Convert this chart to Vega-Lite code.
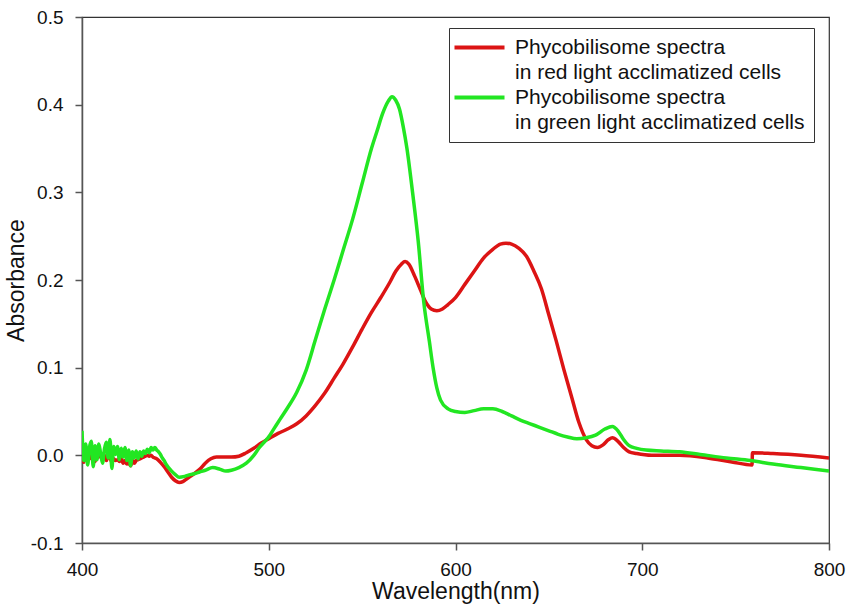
{
  "$schema": "https://vega.github.io/schema/vega-lite/v6.json",
  "width": 747,
  "height": 526,
  "autosize": {"type": "none"},
  "padding": {"left": 82, "top": 17, "right": 21, "bottom": 66},
  "background": "white",
  "config": {
    "font": "Liberation Sans",
    "view": {"stroke": "#333", "strokeWidth": 1.2},
    "axis": {
      "grid": false,
      "domainColor": "#555",
      "domainWidth": 1.5,
      "tickColor": "#555",
      "tickWidth": 1.5,
      "tickSize": 7,
      "labelFontSize": 19,
      "labelColor": "#111",
      "labelFlush": false,
      "titleFontSize": 23,
      "titleFontWeight": "normal",
      "titleColor": "#111"
    }
  },
  "data": {
    "values": [
      {"series":"red","wavelength":400,"absorbance":0.000},
      {"series":"red","wavelength":401,"absorbance":-0.008},
      {"series":"red","wavelength":402,"absorbance":0.004},
      {"series":"red","wavelength":403,"absorbance":-0.006},
      {"series":"red","wavelength":404,"absorbance":0.002},
      {"series":"red","wavelength":405,"absorbance":-0.004},
      {"series":"red","wavelength":406,"absorbance":0.003},
      {"series":"red","wavelength":407,"absorbance":-0.007},
      {"series":"red","wavelength":408,"absorbance":0.001},
      {"series":"red","wavelength":409,"absorbance":-0.002},
      {"series":"red","wavelength":410,"absorbance":0.003},
      {"series":"red","wavelength":411,"absorbance":-0.004},
      {"series":"red","wavelength":412,"absorbance":0.000},
      {"series":"red","wavelength":413,"absorbance":-0.006},
      {"series":"red","wavelength":414,"absorbance":-0.002},
      {"series":"red","wavelength":415,"absorbance":-0.003},
      {"series":"red","wavelength":416,"absorbance":-0.008},
      {"series":"red","wavelength":417,"absorbance":-0.004},
      {"series":"red","wavelength":418,"absorbance":-0.006},
      {"series":"red","wavelength":419,"absorbance":-0.005},
      {"series":"red","wavelength":420,"absorbance":-0.007},
      {"series":"red","wavelength":421,"absorbance":-0.004},
      {"series":"red","wavelength":422,"absorbance":-0.009},
      {"series":"red","wavelength":423,"absorbance":-0.006},
      {"series":"red","wavelength":424,"absorbance":-0.010},
      {"series":"red","wavelength":425,"absorbance":-0.008},
      {"series":"red","wavelength":426,"absorbance":-0.012},
      {"series":"red","wavelength":427,"absorbance":-0.006},
      {"series":"red","wavelength":428,"absorbance":-0.009},
      {"series":"red","wavelength":429,"absorbance":-0.006},
      {"series":"red","wavelength":430,"absorbance":-0.005},
      {"series":"red","wavelength":431,"absorbance":-0.004},
      {"series":"red","wavelength":432,"absorbance":-0.003},
      {"series":"red","wavelength":433,"absorbance":-0.002},
      {"series":"red","wavelength":434,"absorbance":-0.001},
      {"series":"red","wavelength":435,"absorbance":0.000},
      {"series":"red","wavelength":436,"absorbance":-0.001},
      {"series":"red","wavelength":437,"absorbance":0.000},
      {"series":"red","wavelength":438,"absorbance":-0.002},
      {"series":"red","wavelength":439,"absorbance":-0.003},
      {"series":"red","wavelength":440,"absorbance":-0.004},
      {"series":"red","wavelength":442,"absorbance":-0.008},
      {"series":"red","wavelength":444,"absorbance":-0.013},
      {"series":"red","wavelength":446,"absorbance":-0.019},
      {"series":"red","wavelength":448,"absorbance":-0.025},
      {"series":"red","wavelength":450,"absorbance":-0.029},
      {"series":"red","wavelength":452,"absorbance":-0.031},
      {"series":"red","wavelength":454,"absorbance":-0.030},
      {"series":"red","wavelength":456,"absorbance":-0.027},
      {"series":"red","wavelength":458,"absorbance":-0.024},
      {"series":"red","wavelength":460,"absorbance":-0.021},
      {"series":"red","wavelength":463,"absorbance":-0.016},
      {"series":"red","wavelength":466,"absorbance":-0.009},
      {"series":"red","wavelength":469,"absorbance":-0.004},
      {"series":"red","wavelength":472,"absorbance":-0.002},
      {"series":"red","wavelength":476,"absorbance":-0.002},
      {"series":"red","wavelength":480,"absorbance":-0.002},
      {"series":"red","wavelength":484,"absorbance":-0.001},
      {"series":"red","wavelength":488,"absorbance":0.003},
      {"series":"red","wavelength":492,"absorbance":0.008},
      {"series":"red","wavelength":496,"absorbance":0.014},
      {"series":"red","wavelength":500,"absorbance":0.019},
      {"series":"red","wavelength":505,"absorbance":0.025},
      {"series":"red","wavelength":510,"absorbance":0.030},
      {"series":"red","wavelength":515,"absorbance":0.036},
      {"series":"red","wavelength":520,"absorbance":0.045},
      {"series":"red","wavelength":525,"absorbance":0.057},
      {"series":"red","wavelength":530,"absorbance":0.071},
      {"series":"red","wavelength":535,"absorbance":0.088},
      {"series":"red","wavelength":540,"absorbance":0.105},
      {"series":"red","wavelength":545,"absorbance":0.124},
      {"series":"red","wavelength":550,"absorbance":0.144},
      {"series":"red","wavelength":555,"absorbance":0.163},
      {"series":"red","wavelength":560,"absorbance":0.180},
      {"series":"red","wavelength":565,"absorbance":0.198},
      {"series":"red","wavelength":568,"absorbance":0.210},
      {"series":"red","wavelength":571,"absorbance":0.218},
      {"series":"red","wavelength":573,"absorbance":0.221},
      {"series":"red","wavelength":575,"absorbance":0.218},
      {"series":"red","wavelength":578,"absorbance":0.205},
      {"series":"red","wavelength":581,"absorbance":0.190},
      {"series":"red","wavelength":584,"absorbance":0.175},
      {"series":"red","wavelength":587,"absorbance":0.167},
      {"series":"red","wavelength":590,"absorbance":0.165},
      {"series":"red","wavelength":593,"absorbance":0.167},
      {"series":"red","wavelength":596,"absorbance":0.172},
      {"series":"red","wavelength":600,"absorbance":0.180},
      {"series":"red","wavelength":605,"absorbance":0.195},
      {"series":"red","wavelength":610,"absorbance":0.210},
      {"series":"red","wavelength":615,"absorbance":0.225},
      {"series":"red","wavelength":620,"absorbance":0.235},
      {"series":"red","wavelength":624,"absorbance":0.241},
      {"series":"red","wavelength":627,"absorbance":0.242},
      {"series":"red","wavelength":630,"absorbance":0.241},
      {"series":"red","wavelength":634,"absorbance":0.236},
      {"series":"red","wavelength":638,"absorbance":0.227},
      {"series":"red","wavelength":642,"absorbance":0.210},
      {"series":"red","wavelength":646,"absorbance":0.190},
      {"series":"red","wavelength":650,"absorbance":0.160},
      {"series":"red","wavelength":654,"absorbance":0.130},
      {"series":"red","wavelength":658,"absorbance":0.098},
      {"series":"red","wavelength":662,"absorbance":0.068},
      {"series":"red","wavelength":666,"absorbance":0.038},
      {"series":"red","wavelength":670,"absorbance":0.018},
      {"series":"red","wavelength":673,"absorbance":0.011},
      {"series":"red","wavelength":676,"absorbance":0.009},
      {"series":"red","wavelength":679,"absorbance":0.012},
      {"series":"red","wavelength":682,"absorbance":0.018},
      {"series":"red","wavelength":684,"absorbance":0.020},
      {"series":"red","wavelength":687,"absorbance":0.016},
      {"series":"red","wavelength":690,"absorbance":0.009},
      {"series":"red","wavelength":693,"absorbance":0.004},
      {"series":"red","wavelength":697,"absorbance":0.002},
      {"series":"red","wavelength":705,"absorbance":0.000},
      {"series":"red","wavelength":720,"absorbance":0.000},
      {"series":"red","wavelength":735,"absorbance":-0.003},
      {"series":"red","wavelength":748,"absorbance":-0.0076},
      {"series":"red","wavelength":758.8,"absorbance":-0.011},
      {"series":"red","wavelength":759,"absorbance":0.003},
      {"series":"red","wavelength":770,"absorbance":0.002},
      {"series":"red","wavelength":785,"absorbance":0.000},
      {"series":"red","wavelength":800,"absorbance":-0.003},
      {"series":"green","wavelength":400,"absorbance":0.028},
      {"series":"green","wavelength":401,"absorbance":-0.006},
      {"series":"green","wavelength":402,"absorbance":0.013},
      {"series":"green","wavelength":403,"absorbance":-0.011},
      {"series":"green","wavelength":404,"absorbance":0.009},
      {"series":"green","wavelength":405,"absorbance":0.016},
      {"series":"green","wavelength":406,"absorbance":-0.013},
      {"series":"green","wavelength":407,"absorbance":0.011},
      {"series":"green","wavelength":408,"absorbance":-0.005},
      {"series":"green","wavelength":409,"absorbance":0.013},
      {"series":"green","wavelength":410,"absorbance":0.002},
      {"series":"green","wavelength":411,"absorbance":-0.009},
      {"series":"green","wavelength":412,"absorbance":0.007},
      {"series":"green","wavelength":413,"absorbance":0.015},
      {"series":"green","wavelength":414,"absorbance":-0.003},
      {"series":"green","wavelength":415,"absorbance":0.018},
      {"series":"green","wavelength":416,"absorbance":-0.015},
      {"series":"green","wavelength":417,"absorbance":0.010},
      {"series":"green","wavelength":418,"absorbance":0.001},
      {"series":"green","wavelength":419,"absorbance":0.010},
      {"series":"green","wavelength":420,"absorbance":-0.005},
      {"series":"green","wavelength":421,"absorbance":0.008},
      {"series":"green","wavelength":422,"absorbance":-0.002},
      {"series":"green","wavelength":423,"absorbance":0.009},
      {"series":"green","wavelength":424,"absorbance":-0.006},
      {"series":"green","wavelength":425,"absorbance":0.006},
      {"series":"green","wavelength":426,"absorbance":-0.012},
      {"series":"green","wavelength":427,"absorbance":0.004},
      {"series":"green","wavelength":428,"absorbance":-0.003},
      {"series":"green","wavelength":429,"absorbance":0.005},
      {"series":"green","wavelength":430,"absorbance":-0.004},
      {"series":"green","wavelength":431,"absorbance":0.004},
      {"series":"green","wavelength":432,"absorbance":-0.001},
      {"series":"green","wavelength":433,"absorbance":0.005},
      {"series":"green","wavelength":434,"absorbance":0.002},
      {"series":"green","wavelength":435,"absorbance":0.007},
      {"series":"green","wavelength":436,"absorbance":0.003},
      {"series":"green","wavelength":437,"absorbance":0.009},
      {"series":"green","wavelength":438,"absorbance":0.006},
      {"series":"green","wavelength":439,"absorbance":0.009},
      {"series":"green","wavelength":440,"absorbance":0.006},
      {"series":"green","wavelength":441,"absorbance":0.004},
      {"series":"green","wavelength":442,"absorbance":0.001},
      {"series":"green","wavelength":443,"absorbance":-0.003},
      {"series":"green","wavelength":444,"absorbance":-0.006},
      {"series":"green","wavelength":445,"absorbance":-0.010},
      {"series":"green","wavelength":448,"absorbance":-0.018},
      {"series":"green","wavelength":450,"absorbance":-0.022},
      {"series":"green","wavelength":452,"absorbance":-0.025},
      {"series":"green","wavelength":455,"absorbance":-0.024},
      {"series":"green","wavelength":458,"absorbance":-0.022},
      {"series":"green","wavelength":460,"absorbance":-0.021},
      {"series":"green","wavelength":463,"absorbance":-0.019},
      {"series":"green","wavelength":466,"absorbance":-0.017},
      {"series":"green","wavelength":470,"absorbance":-0.014},
      {"series":"green","wavelength":474,"absorbance":-0.016},
      {"series":"green","wavelength":477,"absorbance":-0.018},
      {"series":"green","wavelength":480,"absorbance":-0.017},
      {"series":"green","wavelength":484,"absorbance":-0.014},
      {"series":"green","wavelength":488,"absorbance":-0.009},
      {"series":"green","wavelength":492,"absorbance":0.000},
      {"series":"green","wavelength":495,"absorbance":0.009},
      {"series":"green","wavelength":498,"absorbance":0.016},
      {"series":"green","wavelength":500,"absorbance":0.021},
      {"series":"green","wavelength":503,"absorbance":0.031},
      {"series":"green","wavelength":506,"absorbance":0.041},
      {"series":"green","wavelength":510,"absorbance":0.054},
      {"series":"green","wavelength":515,"absorbance":0.072},
      {"series":"green","wavelength":520,"absorbance":0.097},
      {"series":"green","wavelength":525,"absorbance":0.132},
      {"series":"green","wavelength":530,"absorbance":0.167},
      {"series":"green","wavelength":535,"absorbance":0.200},
      {"series":"green","wavelength":540,"absorbance":0.235},
      {"series":"green","wavelength":545,"absorbance":0.270},
      {"series":"green","wavelength":550,"absorbance":0.310},
      {"series":"green","wavelength":555,"absorbance":0.350},
      {"series":"green","wavelength":558,"absorbance":0.370},
      {"series":"green","wavelength":561,"absorbance":0.390},
      {"series":"green","wavelength":564,"absorbance":0.404},
      {"series":"green","wavelength":566,"absorbance":0.409},
      {"series":"green","wavelength":568,"absorbance":0.405},
      {"series":"green","wavelength":570,"absorbance":0.395},
      {"series":"green","wavelength":572,"absorbance":0.375},
      {"series":"green","wavelength":574,"absorbance":0.350},
      {"series":"green","wavelength":577,"absorbance":0.300},
      {"series":"green","wavelength":580,"absorbance":0.245},
      {"series":"green","wavelength":583,"absorbance":0.175},
      {"series":"green","wavelength":586,"absorbance":0.130},
      {"series":"green","wavelength":588,"absorbance":0.100},
      {"series":"green","wavelength":590,"absorbance":0.077},
      {"series":"green","wavelength":592,"absorbance":0.063},
      {"series":"green","wavelength":596,"absorbance":0.053},
      {"series":"green","wavelength":600,"absorbance":0.050},
      {"series":"green","wavelength":605,"absorbance":0.049},
      {"series":"green","wavelength":610,"absorbance":0.051},
      {"series":"green","wavelength":615,"absorbance":0.053},
      {"series":"green","wavelength":620,"absorbance":0.053},
      {"series":"green","wavelength":625,"absorbance":0.050},
      {"series":"green","wavelength":630,"absorbance":0.045},
      {"series":"green","wavelength":635,"absorbance":0.040},
      {"series":"green","wavelength":640,"absorbance":0.036},
      {"series":"green","wavelength":645,"absorbance":0.032},
      {"series":"green","wavelength":650,"absorbance":0.028},
      {"series":"green","wavelength":655,"absorbance":0.024},
      {"series":"green","wavelength":660,"absorbance":0.021},
      {"series":"green","wavelength":665,"absorbance":0.019},
      {"series":"green","wavelength":670,"absorbance":0.020},
      {"series":"green","wavelength":675,"absorbance":0.023},
      {"series":"green","wavelength":680,"absorbance":0.030},
      {"series":"green","wavelength":684,"absorbance":0.033},
      {"series":"green","wavelength":687,"absorbance":0.028},
      {"series":"green","wavelength":690,"absorbance":0.018},
      {"series":"green","wavelength":693,"absorbance":0.011},
      {"series":"green","wavelength":697,"absorbance":0.008},
      {"series":"green","wavelength":702,"absorbance":0.006},
      {"series":"green","wavelength":710,"absorbance":0.005},
      {"series":"green","wavelength":720,"absorbance":0.004},
      {"series":"green","wavelength":731,"absorbance":0.001},
      {"series":"green","wavelength":745,"absorbance":-0.003},
      {"series":"green","wavelength":758,"absorbance":-0.006},
      {"series":"green","wavelength":770,"absorbance":-0.010},
      {"series":"green","wavelength":785,"absorbance":-0.014},
      {"series":"green","wavelength":800,"absorbance":-0.018}
    ]
  },
  "mark": {"type": "line", "strokeWidth": 3.5, "interpolate": "monotone", "clip": true},
  "encoding": {
    "x": {
      "field": "wavelength",
      "type": "quantitative",
      "scale": {"domain": [400, 800], "nice": false, "zero": false},
      "axis": {"values": [400, 500, 600, 700, 800], "format": "d", "title": "Wavelength(nm)", "labelPadding": 10, "titlePadding": 1}
    },
    "y": {
      "field": "absorbance",
      "type": "quantitative",
      "scale": {"domain": [-0.1, 0.5], "nice": false, "zero": false},
      "axis": {
        "values": [-0.1, 0, 0.1, 0.2, 0.3, 0.4, 0.5],
        "labelExpr": "datum.value < 0 ? '-' + format(-datum.value, '.1f') : format(datum.value, '.1f')",
        "title": "Absorbance",
        "labelPadding": 12,
        "titlePadding": 2
      }
    },
    "color": {
      "field": "series",
      "type": "nominal",
      "scale": {"domain": ["red", "red-2", "green", "green-2"], "range": ["#dc1414", "rgba(0,0,0,0)", "#22e622", "rgba(0,0,0,0)"]},
      "legend": {
        "title": null,
        "orient": "none",
        "legendX": 367,
        "legendY": 11,
        "padding": 9,
        "strokeColor": "#333",
        "fillColor": "white",
        "symbolType": "M-3,0H3",
        "symbolSize": 278,
        "symbolOffset": 11,
        "symbolStrokeWidth": 4,
        "labelFontSize": 21,
        "labelOffset": 25,
        "labelLimit": 400,
        "labelColor": "#111",
        "rowPadding": 3,
        "labelExpr": "datum.label == 'red' || datum.label == 'green' ? 'Phycobilisome spectra' : datum.label == 'red-2' ? 'in red light acclimatized cells' : 'in green light acclimatized cells'"
      }
    }
  }
}
